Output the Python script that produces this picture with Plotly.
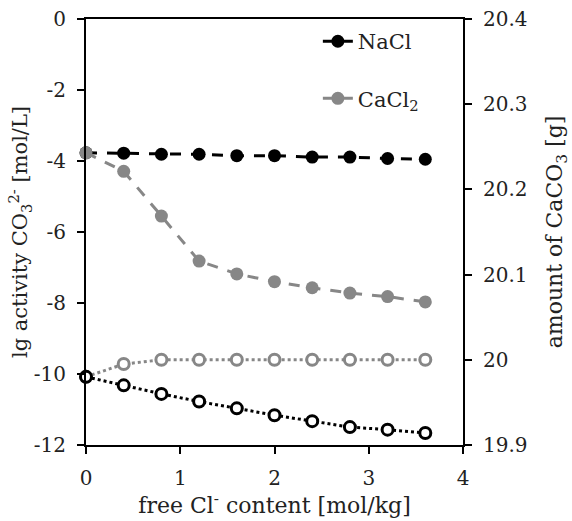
import plotly.graph_objects as go

# Data
cl_content = [0, 0.4, 0.8, 1.2, 1.6, 2.0, 2.4, 2.8, 3.2, 3.6]
nacl_activity = [-3.77, -3.78, -3.81, -3.81, -3.85, -3.85, -3.89, -3.89, -3.93, -3.95]
cacl2_activity = [-3.77, -4.29, -5.55, -6.82, -7.18, -7.40, -7.57, -7.72, -7.82, -7.97]
nacl_amount = [19.980, 19.970, 19.960, 19.951, 19.943, 19.935, 19.928, 19.921, 19.918, 19.914]
cacl2_amount = [19.980, 19.995, 20.0, 20.0, 20.0, 20.0, 20.0, 20.0, 20.0, 20.0]

x_ticks = [0, 1, 2, 3, 4]
left_ticks = [0, -2, -4, -6, -8, -10, -12]
left_ticktext = ["0", "-2", "-4", "-6", "-8", "-10", "-12"]
right_ticks = [19.9, 20.0, 20.1, 20.2, 20.3, 20.4]
right_ticktext = ["19.9", "20", "20.1", "20.2", "20.3", "20.4"]

BLACK = "#000000"
GRAY = "#878787"
FONT = "DejaVu Serif"
TXT = "#222222"
TICK_SIZE = 20
TITLE_SIZE = 22

fig = go.Figure()
fig.add_trace(go.Scatter(
    x=cl_content, y=nacl_activity, name="NaCl", mode="lines+markers",
    line=dict(color=BLACK, width=3, dash="11px,10px"),
    marker=dict(color=BLACK, size=13, symbol="circle"),
    cliponaxis=False, legend="legend"))
fig.add_trace(go.Scatter(
    x=cl_content, y=cacl2_activity, name="CaCl<sub>2</sub>", mode="lines+markers",
    line=dict(color=GRAY, width=3, dash="11px,10px"),
    marker=dict(color=GRAY, size=13, symbol="circle"),
    cliponaxis=False, legend="legend2"))
fig.add_trace(go.Scatter(
    x=cl_content, y=cacl2_amount, mode="lines+markers", showlegend=False,
    line=dict(color=GRAY, width=3, dash="dot"),
    marker=dict(color="white", size=11, symbol="circle", line=dict(color=GRAY, width=3)),
    cliponaxis=False, yaxis="y2"))
fig.add_trace(go.Scatter(
    x=cl_content, y=nacl_amount, mode="lines+markers", showlegend=False,
    line=dict(color=BLACK, width=3, dash="dot"),
    marker=dict(color="white", size=11, symbol="circle", line=dict(color=BLACK, width=3)),
    cliponaxis=False, yaxis="y2"))

axis_common = dict(showgrid=False, zeroline=False, showline=True, linecolor=BLACK,
                   linewidth=2, ticks="outside", ticklen=7, tickwidth=2, tickcolor=BLACK,
                   ticklabelstandoff=7, automargin=False,
                   tickfont=dict(family=FONT, size=TICK_SIZE, color=TXT))
title_font = dict(family=FONT, size=TITLE_SIZE, color=TXT)

fig.update_layout(
    width=572, height=521,
    margin=dict(l=86, r=109, t=19, b=76),
    paper_bgcolor="white", plot_bgcolor="white",
    font=dict(family=FONT, size=TICK_SIZE, color=TXT),
    xaxis=dict(range=[0, 4], tickvals=x_ticks, mirror=True,
               title=dict(text="free Cl<sup>-</sup> content [mol/kg]", font=title_font, standoff=4),
               **axis_common),
    yaxis=dict(range=[-12, 0], tickvals=left_ticks, ticktext=left_ticktext,
               title=dict(text="lg activity CO<sub>3</sub><sup>2-</sup> [mol/L]",
                          font=dict(family=FONT, size=21, color=TXT), standoff=0),
               **axis_common),
    yaxis2=dict(range=[19.9, 20.4], tickvals=right_ticks, ticktext=right_ticktext,
                overlaying="y", side="right",
                title=dict(text="amount of CaCO<sub>3</sub> [g]", font=title_font, standoff=20),
                **axis_common),
    legend=dict(x=0.615, y=0.947, xanchor="left", yanchor="middle", bgcolor="rgba(0,0,0,0)",
                font=dict(family=FONT, size=21, color=TXT)),
    legend2=dict(x=0.615, y=0.813, xanchor="left", yanchor="middle", bgcolor="rgba(0,0,0,0)",
                 font=dict(family=FONT, size=21, color=TXT)),
)

fig.write_html("out.html")
